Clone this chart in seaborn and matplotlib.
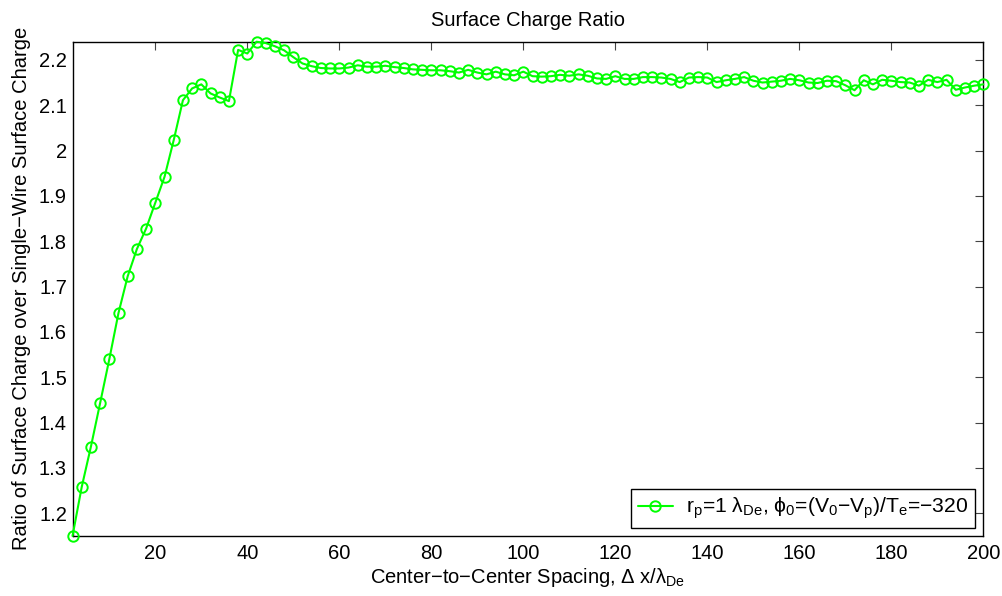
import matplotlib
matplotlib.use("Agg")
import matplotlib.pyplot as plt
import seaborn as sns
import numpy as np
import pandas as pd

# ---- data ----
spacing = list(range(2, 201, 2))
ratio = [
    1.150, 1.258, 1.347, 1.443, 1.540, 1.642, 1.723, 1.783, 1.828, 1.885,
    1.942, 2.023, 2.111, 2.137, 2.146, 2.126, 2.117, 2.109, 2.222, 2.214,
    2.240, 2.237, 2.230, 2.221, 2.206, 2.192, 2.186, 2.182, 2.181, 2.181,
    2.183, 2.188, 2.185, 2.185, 2.187, 2.184, 2.182, 2.179, 2.178, 2.177,
    2.177, 2.175, 2.172, 2.178, 2.172, 2.168, 2.174, 2.168, 2.166, 2.174,
    2.164, 2.163, 2.164, 2.167, 2.165, 2.168, 2.165, 2.159, 2.158, 2.164,
    2.158, 2.158, 2.162, 2.162, 2.161, 2.158, 2.151, 2.161, 2.162, 2.161,
    2.151, 2.155, 2.158, 2.162, 2.154, 2.150, 2.152, 2.154, 2.158, 2.155,
    2.150, 2.149, 2.154, 2.153, 2.144, 2.133, 2.155, 2.146, 2.156, 2.154,
    2.151, 2.150, 2.143, 2.156, 2.151, 2.156, 2.134, 2.139, 2.143, 2.146,
]
x_ticks = [20, 40, 60, 80, 100, 120, 140, 160, 180, 200]
y_ticks = [1.2, 1.3, 1.4, 1.5, 1.6, 1.7, 1.8, 1.9, 2.0, 2.1, 2.2]
y_ticklabels = ["1.2", "1.3", "1.4", "1.5", "1.6", "1.7", "1.8", "1.9", "2", "2.1", "2.2"]
series_label = (r"r$_\mathregular{p}$=1 λ$_\mathregular{De}$, ϕ$_\mathregular{0}$="
                r"(V$_\mathregular{0}$−V$_\mathregular{p}$)/T$_\mathregular{e}$=−320")
title = "Surface Charge Ratio"
xlabel = r"Center−to−Center Spacing, Δ x/λ$_\mathregular{De}$"
ylabel = "Ratio of Surface Charge over Single−Wire Surface Charge"

df = pd.DataFrame({"spacing": spacing, "ratio": ratio})

sns.set_style("white")
plt.rcParams["font.family"] = ["Liberation Sans", "DejaVu Sans"]
plt.rcParams["mathtext.fontset"] = "custom"
plt.rcParams["mathtext.rm"] = "Liberation Sans"
plt.rcParams["mathtext.it"] = "Liberation Sans:italic"
for k in ["text.color", "axes.labelcolor", "xtick.color", "ytick.color"]:
    plt.rcParams[k] = "black"

FS = 14.5
fig = plt.figure(figsize=(10.03, 5.96), dpi=100)
ax = fig.add_axes([0.0723, 0.1007, 0.9081, 0.8293])

green = (0.0, 1.0, 0.0)
sns.lineplot(data=df, x="spacing", y="ratio", ax=ax, color=green, linewidth=1.5,
             marker="o", markersize=7.5, markerfacecolor="none",
             markeredgecolor=green, markeredgewidth=1.4, label=series_label)
for ln in ax.lines:
    ln.set_clip_on(False)
    ln.set_zorder(3)

ax.set_xlim(2, 200)
ax.set_ylim(1.15, 2.24)
ax.set_xticks(x_ticks)
ax.set_xticklabels([str(t) for t in x_ticks])
ax.set_yticks(y_ticks)
ax.set_yticklabels(y_ticklabels)

ax.tick_params(direction="in", length=6, width=0.8, color="#444444",
               labelcolor="black", labelsize=FS, top=True, right=True, pad=4)
ax.tick_params(axis="x", pad=6)
for s in ax.spines.values():
    s.set_visible(True)
    s.set_color("black")
    s.set_linewidth(1.0)

ax.set_title(title, fontsize=FS, pad=11, color="black")
ax.set_xlabel(xlabel, fontsize=FS, labelpad=2)
ax.set_ylabel(ylabel, fontsize=FS, labelpad=6)

leg = ax.legend(loc="lower right", fontsize=15.2, frameon=True, fancybox=False,
                edgecolor="black", framealpha=1, handlelength=1.7,
                borderaxespad=0.4, borderpad=0.3, handletextpad=0.6)
leg.get_frame().set_linewidth(1.0)
leg.set_zorder(5)

fig.savefig("out.png", dpi=100)
